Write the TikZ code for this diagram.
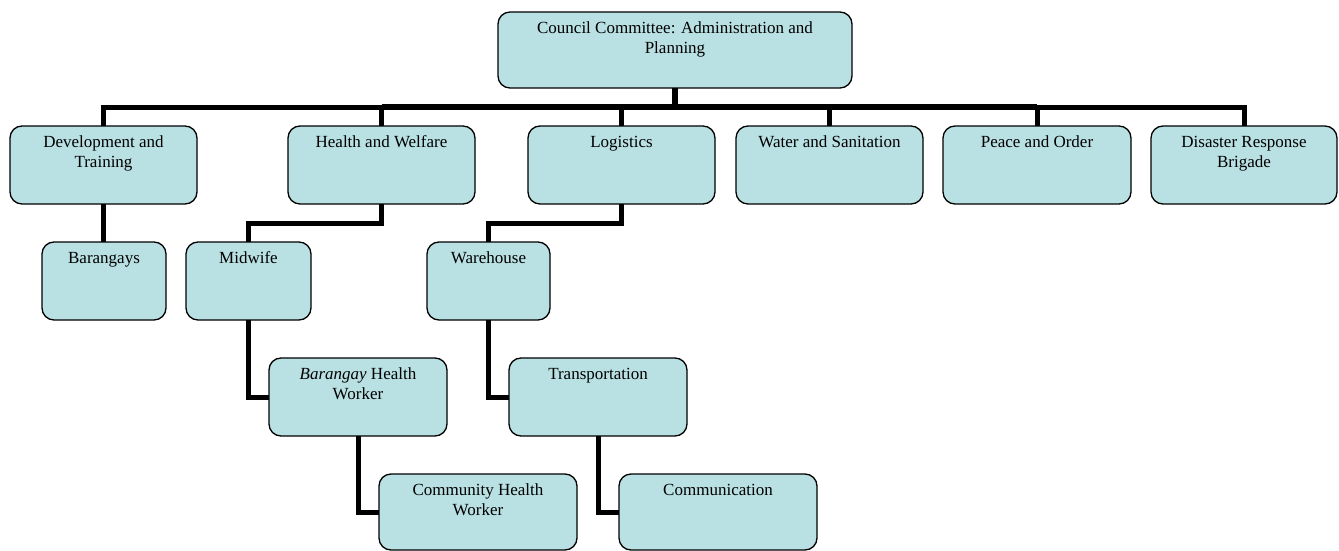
\documentclass[tikz,border=0pt]{standalone}
\usepackage{fontspec}
\setmainfont{Liberation Serif}
\definecolor{boxfill}{RGB}{185,224,227}
\newcommand{\bxt}[3]{\parbox[c][#2][t]{#1}{\centering\rule{0pt}{21pt}#3}}
\tikzset{
  box/.style={draw=black, line width=1.3pt, rounded corners=12pt, fill=boxfill, inner sep=0pt, outer sep=0pt,
    font=\fontsize{17}{20.5}\selectfont},
  link/.style={line width=5pt, draw=black},
  thick link/.style={line width=6.5pt, draw=black}
}
\begin{document}
\begin{tikzpicture}[x=1pt,y=-1pt]
\useasboundingbox (0,0) rectangle (1339,551);
% top
\node[box] (top) at (675,50) {\bxt{354pt}{76pt}{Council Committee: Administration and\\Planning}};
% row 1
\node[box] (DT)  at (103.5,165) {\bxt{187pt}{78pt}{Development and\\Training}};
\node[box] (HW)  at (381.5,165) {\bxt{187pt}{78pt}{Health and Welfare}};
\node[box] (LG)  at (621.5,165) {\bxt{187pt}{78pt}{Logistics}};
\node[box] (WS)  at (829.5,165) {\bxt{187pt}{78pt}{Water and Sanitation}};
\node[box] (PO)  at (1037,165)  {\bxt{188pt}{78pt}{Peace and Order}};
\node[box] (DRB) at (1244,165)  {\bxt{186pt}{78pt}{Disaster Response\\Brigade}};
% row 2
\node[box] (BG) at (104,281)   {\bxt{124pt}{78pt}{Barangays}};
\node[box] (MW) at (248.5,281) {\bxt{125pt}{78pt}{Midwife}};
\node[box] (WH) at (488.5,281) {\bxt{123pt}{78pt}{Warehouse}};
% row 3
\node[box] (BHW) at (358,397) {\bxt{178pt}{78pt}{\textit{Barangay} Health\\Worker}};
\node[box] (TR)  at (598,397) {\bxt{178pt}{78pt}{Transportation}};
% row 4
\node[box] (CHW) at (478,512) {\bxt{198pt}{76pt}{Community Health\\Worker}};
\node[box] (CM)  at (718,512) {\bxt{198pt}{76pt}{Communication}};
% bus
\coordinate (busy) at (0,107);
\draw[thick link] (top.south) -- (top.south |- busy);
\draw[link] (DT.north) -- (DT.north |- busy) -- (HW.north |- busy);
\draw[thick link] (HW.north |- busy) -- (PO.north |- busy);
\draw[link] (PO.north |- busy) -- (DRB.north |- busy) -- (DRB.north);
\draw[link] (HW.north) -- (HW.north |- busy);
\draw[link] (LG.north) -- (LG.north |- busy);
\draw[link] (WS.north) -- (WS.north |- busy);
\draw[link] (PO.north) -- (PO.north |- busy);
% sub links
\coordinate (midy) at (0,223);
\draw[link] (DT.south) -- (DT.south |- BG.north);
\draw[link] (HW.south) -- (HW.south |- midy) -| (MW.north);
\draw[link] (LG.south) -- (LG.south |- midy) -| (WH.north);
\draw[link] (MW.south) |- (BHW.west);
\draw[link] (BHW.south) |- (CHW.west);
\draw[link] (WH.south) |- (TR.west);
\draw[link] (TR.south) |- (CM.west);
\end{tikzpicture}
\end{document}
